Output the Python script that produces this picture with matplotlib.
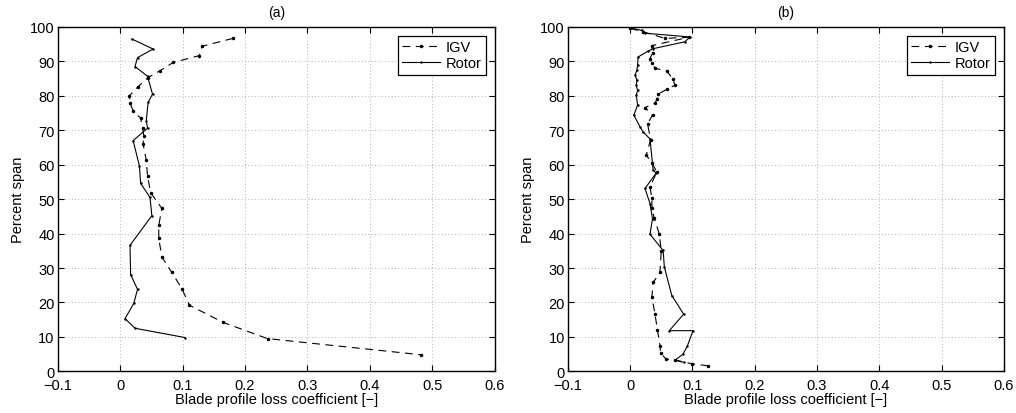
import matplotlib
matplotlib.use("Agg")
import matplotlib.pyplot as plt

plt.rcParams['font.family'] = ['Liberation Sans', 'DejaVu Sans']
plt.rcParams['font.size'] = 10

# panel (a)
igv_a_x = [0.181, 0.131, 0.127, 0.085, 0.064, 0.044, 0.028, 0.015, 0.016, 0.021, 0.033, 0.036, 0.038, 0.037,
           0.042, 0.044, 0.049, 0.067, 0.062, 0.062, 0.067, 0.083, 0.099, 0.111, 0.165, 0.236, 0.482]
igv_a_y = [96.7, 94.4, 91.7, 89.7, 87.3, 85.2, 82.5, 80.0, 77.9, 75.7, 73.5, 70.8, 68.4, 66.0,
           61.3, 56.8, 51.9, 47.3, 42.4, 38.6, 33.2, 28.7, 24.0, 19.2, 14.2, 9.5, 4.8]
rotor_a_x = [0.019, 0.053, 0.028, 0.024, 0.044, 0.052, 0.045, 0.042, 0.044, 0.021, 0.031, 0.033, 0.048, 0.051,
             0.016, 0.017, 0.028, 0.022, 0.008, 0.024, 0.104]
rotor_a_y = [96.5, 93.6, 91.1, 88.5, 85.7, 80.5, 78.1, 72.8, 70.6, 67.0, 59.7, 54.6, 50.5, 45.2,
             36.6, 28.1, 23.8, 19.7, 15.3, 12.5, 9.8]

# panel (b)
igv_b_x = [0.0, 0.021, 0.056, 0.094, 0.035, 0.036, 0.032, 0.035, 0.040, 0.059, 0.069, 0.072, 0.059, 0.045,
           0.043, 0.040, 0.024, 0.036, 0.028, 0.033, 0.026, 0.035, 0.043, 0.032, 0.035, 0.035, 0.039, 0.047,
           0.050, 0.048, 0.037, 0.035, 0.040, 0.044, 0.048, 0.049, 0.058, 0.072, 0.099, 0.125]
igv_b_y = [99.6, 98.6, 96.7, 97.0, 94.6, 92.5, 90.8, 89.4, 88.0, 87.2, 84.8, 83.1, 81.9, 80.5,
           79.0, 77.9, 76.6, 74.4, 71.9, 67.3, 62.8, 60.5, 57.9, 53.5, 50.2, 47.3, 44.4, 39.8,
           35.0, 28.7, 25.8, 21.6, 16.6, 11.9, 7.4, 5.3, 3.5, 3.3, 2.2, 1.6]
rotor_b_x = [0.0, 0.019, 0.024, 0.096, 0.088, 0.037, 0.028, 0.013, 0.012, 0.011, 0.008, 0.011, 0.010, 0.012,
             0.010, 0.012, 0.006, 0.016, 0.021, 0.032, 0.037, 0.042, 0.024, 0.032, 0.036, 0.032, 0.053,
             0.055, 0.067, 0.086, 0.063, 0.101, 0.092, 0.085, 0.072, 0.086]
rotor_b_y = [99.7, 99.0, 98.2, 97.1, 95.7, 93.7, 92.9, 91.3, 88.9, 87.5, 86.0, 84.5, 83.1, 81.6,
             80.2, 77.3, 74.4, 71.0, 69.5, 67.5, 58.4, 57.6, 53.1, 48.7, 44.3, 39.8, 35.1,
             30.3, 22.0, 16.6, 11.8, 11.8, 7.4, 5.0, 3.2, 2.6]

xticks = [-0.1, 0, 0.1, 0.2, 0.3, 0.4, 0.5, 0.6]
xticklabels = ['\u22120.1', '0', '0.1', '0.2', '0.3', '0.4', '0.5', '0.6']
yticks = [0, 10, 20, 30, 40, 50, 60, 70, 80, 90, 100]

fig = plt.figure(figsize=(10.16, 4.14), dpi=100)
ax_a = fig.add_axes([0.0566, 0.1007, 0.4306, 0.8317])
ax_b = fig.add_axes([0.5588, 0.1007, 0.4294, 0.8317])

panels = [(ax_a, '(a)', igv_a_x, igv_a_y, rotor_a_x, rotor_a_y),
          (ax_b, '(b)', igv_b_x, igv_b_y, rotor_b_x, rotor_b_y)]

for ax, title, ix, iy, rx, ry in panels:
    ax.plot(ix, iy, color='black', linestyle=(0, (7, 5)), linewidth=0.8,
            marker='.', markersize=3, label='IGV')
    ax.plot(rx, ry, color='black', linestyle='-', linewidth=0.8,
            marker='.', markersize=1.5, label='Rotor')
    ax.set_xlim(-0.1, 0.6)
    ax.set_ylim(0, 100)
    ax.set_xticks(xticks)
    ax.set_xticklabels(xticklabels)
    ax.set_yticks(yticks)
    ax.grid(True, linestyle=(0, (1, 3)), color='#999999', linewidth=0.6)
    ax.tick_params(direction='in', top=True, right=True, length=4, labelsize=10.5)
    ax.tick_params(axis='x', pad=5)
    ax.tick_params(axis='y', pad=2)
    for s in ax.spines.values():
        s.set_linewidth(1.0)
    ax.set_xlabel('Blade profile loss coefficient [\u2212]', fontsize=10.5, labelpad=0)
    ax.set_ylabel('Percent span', fontsize=10.5, labelpad=4)
    ax.set_title(title, fontsize=10, pad=8)
    leg = ax.legend(loc='upper right', fancybox=False, edgecolor='black', framealpha=1,
                    fontsize=10.5, handlelength=2.6, borderpad=0.3, labelspacing=0.15,
                    handletextpad=0.4, borderaxespad=0.6)
    leg.get_frame().set_linewidth(0.9)

fig.savefig('out.png', dpi=100)
